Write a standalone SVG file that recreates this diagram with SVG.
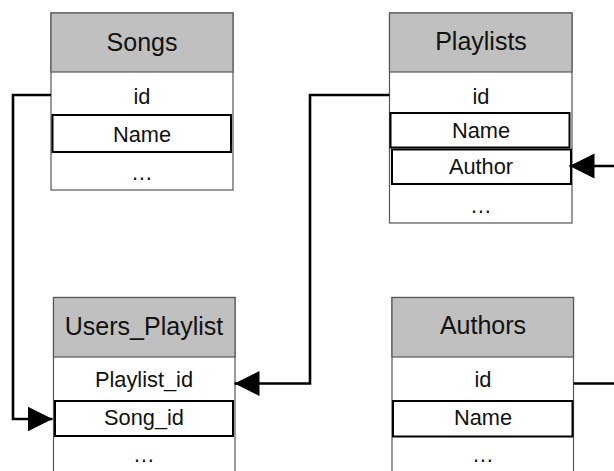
<svg xmlns="http://www.w3.org/2000/svg" width="614" height="471" viewBox="0 0 614 471">
  <style>
    .frame { fill: #ffffff; stroke: #555555; stroke-width: 1.2; }
    .head { fill: #c0c0c0; stroke: #555555; stroke-width: 1.2; }
    .key { fill: #ffffff; stroke: #000000; stroke-width: 2; }
    .title { font-family: "Liberation Sans", Arial, sans-serif; font-size: 25px; fill: #111111; text-anchor: middle; }
    .field { font-family: "Liberation Sans", Arial, sans-serif; font-size: 21.8px; fill: #111111; text-anchor: middle; }
    .link { fill: none; stroke: #000000; stroke-width: 2.6; marker-end: url(#arrow); }
  </style>
  <defs>
    <marker id="arrow" markerUnits="userSpaceOnUse" markerWidth="26" markerHeight="26" refX="25" refY="12.5" orient="auto">
      <path d="M0,0 L25,12.5 L0,25 Z" fill="#000000"/>
    </marker>
  </defs>

  <!-- Songs table -->
  <g id="songs">
    <rect class="frame" x="51" y="13" width="182" height="177"/>
    <rect class="head" x="51" y="13" width="182" height="59"/>
    <text class="title" x="142" y="51">Songs</text>
    <text class="field" x="142" y="104">id</text>
    <rect class="key" x="52.5" y="115" width="178.5" height="37"/>
    <text class="field" x="142" y="141.5">Name</text>
    <text class="field" x="142" y="180">…</text>
  </g>

  <!-- Playlists table -->
  <g id="playlists">
    <rect class="frame" x="389.5" y="13" width="182.5" height="210"/>
    <rect class="head" x="389.5" y="13" width="182.5" height="59"/>
    <text class="title" x="481" y="50">Playlists</text>
    <text class="field" x="481" y="104">id</text>
    <rect class="key" x="390.5" y="113" width="179" height="34.5"/>
    <text class="field" x="481" y="137.5">Name</text>
    <rect class="key" x="392" y="149.5" width="179" height="34.5"/>
    <text class="field" x="481" y="173.5">Author</text>
    <text class="field" x="481" y="213">…</text>
  </g>

  <!-- Users_Playlist table -->
  <g id="users_playlist">
    <rect class="frame" x="53.5" y="297.5" width="181.5" height="200"/>
    <rect class="head" x="53.5" y="297.5" width="181.5" height="59.5"/>
    <text class="title" x="144" y="335">Users_Playlist</text>
    <text class="field" x="144" y="386.5">Playlist_id</text>
    <rect class="key" x="55" y="401" width="178" height="35"/>
    <text class="field" x="144" y="425">Song_id</text>
    <text class="field" x="144" y="462">…</text>
  </g>

  <!-- Authors table -->
  <g id="authors">
    <rect class="frame" x="392" y="297.5" width="181.5" height="200"/>
    <rect class="head" x="392" y="297.5" width="181.5" height="59.5"/>
    <text class="title" x="483" y="333.5">Authors</text>
    <text class="field" x="483" y="386.5">id</text>
    <rect class="key" x="393" y="401" width="179.5" height="35.5"/>
    <text class="field" x="483" y="425">Name</text>
    <text class="field" x="483" y="462">…</text>
  </g>

  <!-- Foreign-key connectors -->
  <g id="connectors">
    <path class="link" d="M51,95 H13 V419 H52.5"/>
    <path class="link" d="M389.5,95 H310 V383.5 H234.5"/>
    <path class="link" d="M573.5,383.5 H622 V166 H569.5"/>
  </g>
</svg>
